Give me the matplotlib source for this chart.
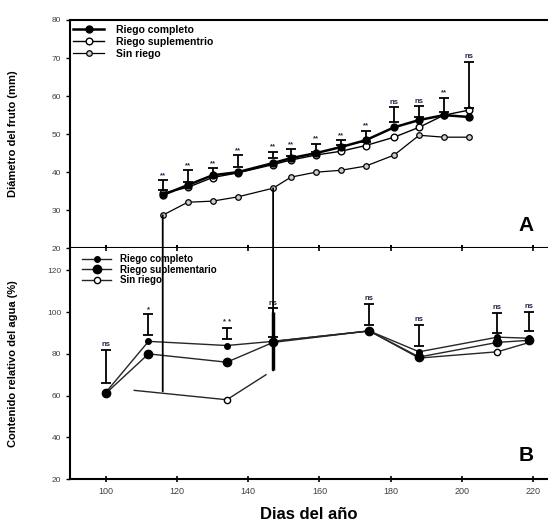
import numpy as np
import matplotlib
matplotlib.use("Agg")
import matplotlib.pyplot as plt
from matplotlib.patches import ConnectionPatch

plt.rcParams['font.family'] = ['Liberation Sans', 'DejaVu Sans']

# Panel A: fruit diameter (mm)
days_a = [116, 123, 130, 137, 147, 152, 159, 166, 173, 181, 188, 195, 202]
completo_a = [34.0, 36.6, 39.2, 40.0, 42.4, 43.7, 45.0, 46.6, 48.4, 51.8, 53.7, 55.0, 54.5]
suplem_a = [34.5, 36.0, 38.6, 39.8, 42.0, 43.2, 44.5, 45.5, 47.0, 49.2, 51.8, 55.0, 56.3]
sinriego_a = [28.7, 32.1, 32.4, 33.5, 35.8, 38.7, 40.0, 40.5, 41.6, 44.5, 49.7, 49.2, 49.2]
err_lo_a = [35.3, 37.4, 38.7, 41.3, 43.7, 44.3, 45.3, 47.1, 47.9, 53.2, 54.5, 55.8, 56.8]
err_hi_a = [37.9, 40.5, 41.0, 44.4, 45.3, 46.0, 47.4, 48.4, 50.8, 57.1, 57.4, 59.5, 69.0]
sig_a = ["**", "**", "**", "**", "**", "**", "**", "**", "**", "ns", "ns", "**", "ns"]

# Panel B: relative water content (%)
days_b = [100, 112, 134, 147, 174, 188, 210, 219]
completo_b = [61.5, 86.0, 84.0, 86.0, 91.0, 81.0, 88.0, 87.5]
suplem_b = [61.0, 80.0, 76.0, 85.5, 91.0, 78.5, 85.5, 86.5]
sinriego_b1_days = [108, 134, 145]
sinriego_b1 = [62.5, 58.0, 70.0]
sinriego_b2_days = [147, 174, 188, 210, 219]
sinriego_b2 = [86.0, 91.0, 78.0, 81.0, 85.5]
err_lo_b = [66.0, 89.0, 87.0, 88.0, 94.0, 84.0, 90.0, 91.0]
err_hi_b = [82.0, 99.0, 92.6, 102.0, 104.0, 94.0, 99.8, 100.3]
sig_b = ["ns", "*", "* *", "ns", "ns", "ns", "ns", "ns"]
extra_err_days = [147]
extra_err_lo = [72.5]
extra_err_hi = [100.0]

# links between panels (days without irrigation)
link_days = [116, 147]
link_top = [28.7, 35.8]
link_bottom = [62.0, 72.0]

fig = plt.figure(figsize=(5.48, 5.25), dpi=100)
ax_a = fig.add_axes([0.128, 0.527, 0.872, 0.435])
ax_b = fig.add_axes([0.128, 0.0876, 0.872, 0.4394])

sig_color = '#23234a'


def draw_err(ax, days, lo, hi, lw=1.3, cap=3.6):
    lo = np.array(lo)
    hi = np.array(hi)
    ax.errorbar(days, (lo + hi) / 2, yerr=(hi - lo) / 2, fmt='none', ecolor='black',
                elinewidth=lw, capsize=cap, capthick=1.3, zorder=4)


# ---- panel A
ax_a.plot(days_a, sinriego_a, '-o', color='black', lw=0.9, ms=4, mfc='0.8', mec='black',
          mew=0.9, label='Sin riego', zorder=3)
ax_a.plot(days_a, suplem_a, '-o', color='black', lw=1.0, ms=4.8, mfc='white', mec='black',
          mew=1.0, label='Riego suplementrio', zorder=3)
ax_a.plot(days_a, completo_a, '-o', color='black', lw=1.8, ms=5, mfc='black', mec='black',
          label='Riego completo', zorder=3)
draw_err(ax_a, days_a, err_lo_a, err_hi_a)
for d, h, s in zip(days_a, err_hi_a, sig_a):
    ax_a.annotate(s, (d, h), xytext=(0, 1), textcoords='offset points', ha='center',
                  va='bottom', fontsize=5.5, fontweight='bold', color=sig_color)

h, l = ax_a.get_legend_handles_labels()
ax_a.legend(h[::-1], l[::-1], loc='upper left', bbox_to_anchor=(0.006, 0.978), frameon=False,
            borderpad=0, borderaxespad=0, handlelength=3.0, handletextpad=1.1,
            labelspacing=0.2, prop={'size': 7.5, 'weight': 'bold'})

ax_a.set_ylim(20, 80)
ax_a.set_yticks(np.arange(20, 81, 10))
ax_a.set_ylabel('Diámetro del fruto (mm)', fontsize=8, fontweight='bold')
ax_a.yaxis.set_label_coords(-0.109, 0.5)
ax_a.text(0.955, 0.06, 'A', transform=ax_a.transAxes, fontsize=15, fontweight='bold',
          ha='center', va='bottom')

# ---- panel B
ax_b.plot(days_b, completo_b, '-o', color='0.15', lw=1.0, ms=4, mfc='black', mec='black',
          label='Riego completo', zorder=3)
ax_b.plot(days_b, suplem_b, '-o', color='0.15', lw=1.0, ms=6, mfc='black', mec='black',
          label='Riego suplementario', zorder=3)
ax_b.plot(sinriego_b1_days, sinriego_b1, '-o', color='0.15', lw=1.0, ms=4.5, mfc='white',
          mec='black', markevery=[1], label='Sin riego', zorder=3)
ax_b.plot(sinriego_b2_days, sinriego_b2, '-o', color='0.15', lw=1.0, ms=4.5, mfc='white',
          mec='black', markevery=[3], zorder=2)
draw_err(ax_b, days_b, err_lo_b, err_hi_b)
draw_err(ax_b, extra_err_days, extra_err_lo, extra_err_hi, lw=2.5, cap=0)
for d, h, s in zip(days_b, err_hi_b, sig_b):
    ax_b.annotate(s, (d, h), xytext=(0, 1), textcoords='offset points', ha='center',
                  va='bottom', fontsize=5.5, fontweight='bold', color=sig_color)

ax_b.legend(loc='upper left', bbox_to_anchor=(0.025, 0.974), frameon=False,
            borderpad=0, borderaxespad=0, handlelength=3.0, handletextpad=0.9,
            labelspacing=0.05, prop={'size': 7, 'weight': 'bold'})

ax_b.set_ylim(20, 130.6)
ax_b.set_yticks(np.arange(20, 121, 20))
ax_b.set_ylabel('Contenido relativo del agua (%)', fontsize=8, fontweight='bold')
ax_b.yaxis.set_label_coords(-0.109, 0.5)
ax_b.set_xlabel('Dias del año', fontsize=12, fontweight='bold')
ax_b.xaxis.set_label_coords(0.5, -0.12)
ax_b.text(0.955, 0.06, 'B', transform=ax_b.transAxes, fontsize=15, fontweight='bold',
          ha='center', va='bottom')

for ax in (ax_a, ax_b):
    ax.set_xlim(90, 224.2)
    ax.set_xticks(np.arange(100, 221, 20))
    ax.spines['right'].set_visible(False)
    for sp in ('left', 'top', 'bottom'):
        ax.spines[sp].set_linewidth(1.5)
    ax.tick_params(axis='y', direction='out', length=3, width=1, labelsize=6, labelcolor='0.25')
    ax.tick_params(axis='x', direction='inout', length=5, width=1.2, labelsize=6.5,
                   labelcolor='0.25')

ax_a.tick_params(axis='x', labelbottom=False)
ax_b.tick_params(axis='x', top=True)
ax_b.spines['top'].set_visible(False)

for d, t, b in zip(link_days, link_top, link_bottom):
    con = ConnectionPatch(xyA=(d, t), coordsA=ax_a.transData, xyB=(d, b),
                          coordsB=ax_b.transData, color='black', lw=1.3, zorder=5)
    fig.add_artist(con)

fig.savefig('out.png', dpi=100)
